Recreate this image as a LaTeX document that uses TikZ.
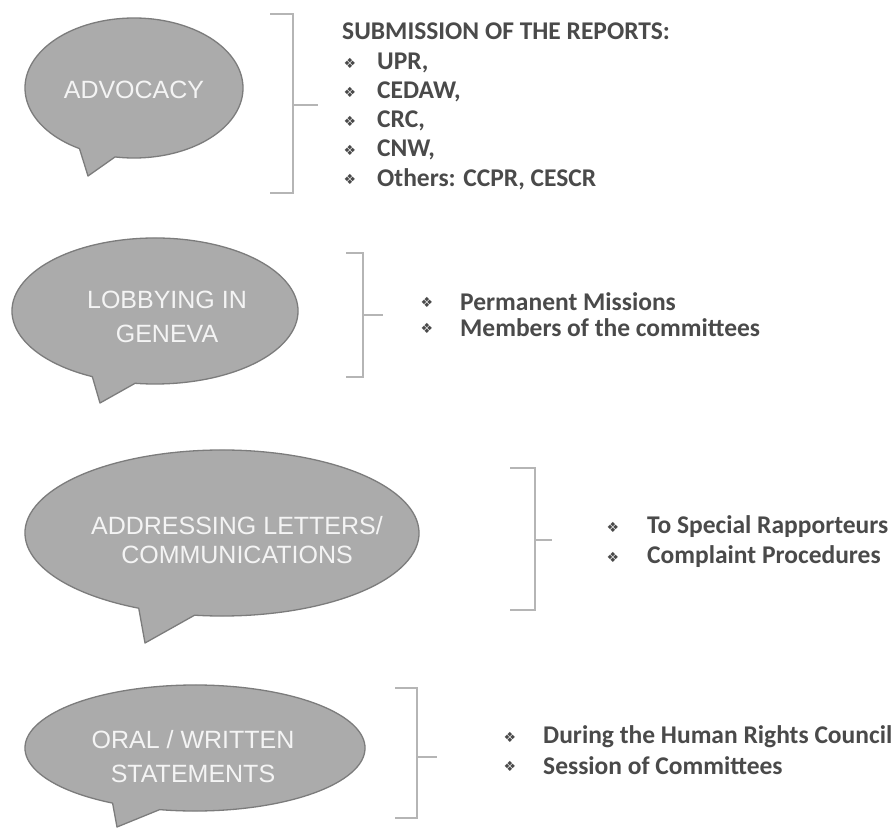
\documentclass[tikz,border=0pt]{standalone}
\usepackage{fontspec}
\setmainfont{Carlito}
\newfontfamily\bubfont{Liberation Sans}
\newfontfamily\symfont{DejaVu Sans}
\definecolor{bubfill}{HTML}{ABABAB}
\definecolor{bubline}{HTML}{7C7C7C}
\definecolor{bubtxt}{HTML}{F4F4F4}
\definecolor{listtxt}{HTML}{4A4A4A}
\definecolor{brkcol}{HTML}{B5B5B5}
\newcommand\speechbubble[8]{%
  \draw[bubble] (#1,#2) ++(#5:#3 and #4)
    arc[start angle=#5, end angle={#6+360}, x radius=#3, y radius=#4]
    -- (#7,#8) -- cycle;}
\begin{document}
\begin{tikzpicture}[x=1pt,y=-1pt,
  bubble/.style={fill=bubfill, draw=bubline, line width=1.3pt, line join=round},
  bubtext/.style={text=bubtxt, font=\bubfont\fontsize{25}{34}\selectfont, align=center, inner sep=0pt},
  listtext/.style={anchor=west, text=listtxt, font=\bfseries\fontsize{25.5}{30}\selectfont, inner sep=0pt},
  bulletmark/.style={text=listtxt, font=\symfont\fontsize{14}{14}\selectfont, inner sep=0pt},
  brk/.style={draw=brkcol, line width=1.5pt}]
\useasboundingbox[fill=white] (0,0) rectangle (894,832);

% ---------- bubbles ----------
\speechbubble{134}{88}{109}{70}{120}{100}{88}{176}
\speechbubble{155}{311}{143}{73}{116}{98}{100}{403}
\speechbubble{222}{533}{197}{83}{115}{98}{145}{643}
\speechbubble{195}{748}{170}{63}{119}{102}{117}{827}

\node[bubtext] (b1) at (134,90) {ADVOCACY};
\node[bubtext] (b2) at (167,317) {LOBBYING IN\\GENEVA};
\node[bubtext, font=\bubfont\fontsize{25}{29}\selectfont] (b3) at (237,540) {ADDRESSING LETTERS/\\COMMUNICATIONS};
\node[bubtext] (b4) at (193,757) {ORAL / WRITTEN\\STATEMENTS};

% ---------- brackets ----------
\draw[brk] (270,14) -- (293,14) -- (293,193) -- (270,193);
\draw[brk] (293,105) -- (318,105);
\draw[brk] (346,253) -- (363,253) -- (363,377) -- (346,377);
\draw[brk] (363,315) -- (383,315);
\draw[brk] (510,468) -- (535,468) -- (535,610) -- (510,610);
\draw[brk] (535,540) -- (552,540);
\draw[brk] (395,688) -- (417,688) -- (417,818) -- (395,818);
\draw[brk] (417,757) -- (437,757);

% ---------- group 1 ----------
\node[listtext] (h1) at (342,31) {SUBMISSION OF THE REPORTS:};
\foreach \t/\yy [count=\i] in {{UPR,}/63, {CEDAW,}/92, {CRC,}/121, {CNW,}/150, {Others: CCPR, CESCR}/179}{
  \node[bulletmark] (g1m\i) at (350,\yy) {❖};
  \node[listtext] (g1t\i) at (377,\yy) {\t};
}
% ---------- group 2 ----------
\node[bulletmark] (g2m1) at (427,302) {❖};
\node[listtext] (g2t1) at (460,302) {Permanent Missions};
\node[bulletmark] (g2m2) at (427,328) {❖};
\node[listtext] (g2t2) at (460,328) {Members of the committees};
% ---------- group 3 ----------
\node[bulletmark] (g3m1) at (613,527) {❖};
\node[listtext] (g3t1) at (647,527) {To Special Rapporteurs};
\node[bulletmark] (g3m2) at (613,557) {❖};
\node[listtext] (g3t2) at (647,557) {Complaint Procedures};
% ---------- group 4 ----------
\node[bulletmark] (g4m1) at (510,737) {❖};
\node[listtext] (g4t1) at (543,737) {During the Human Rights Council};
\node[bulletmark] (g4m2) at (510,766) {❖};
\node[listtext] (g4t2) at (543,766) {Session of Committees};
\end{tikzpicture}
\end{document}
